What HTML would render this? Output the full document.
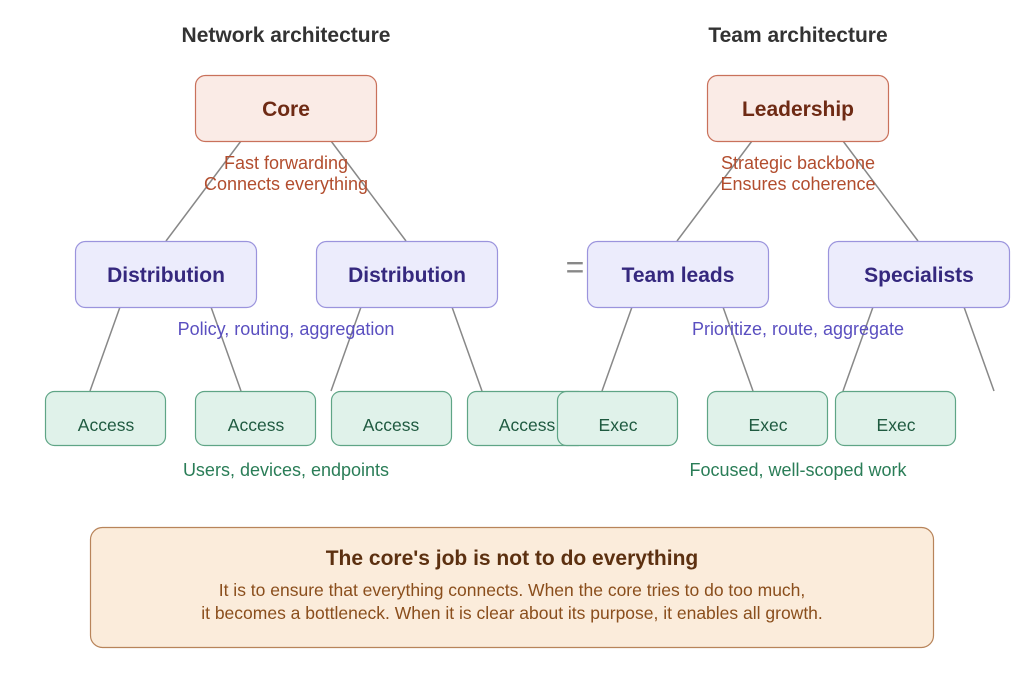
<!DOCTYPE html>
<html><head><meta charset="utf-8"><style>
html,body{margin:0;padding:0;background:#fff;}
svg{display:block;font-family:"Liberation Sans",sans-serif;}
</style></head><body>
<svg width="1024" height="678" viewBox="0 0 1024 678" xmlns="http://www.w3.org/2000/svg">
<rect width="1024" height="678" fill="#fff"/>
<g font-weight="bold" font-size="21" fill="#333" text-anchor="middle">
<text x="286" y="42">Network architecture</text>
<text x="798" y="42">Team architecture</text>
</g>
<g stroke="#888" stroke-width="1.5">
<line x1="241" y1="141" x2="166" y2="241"/><line x1="331" y1="141" x2="406" y2="241"/>
<line x1="120" y1="307" x2="90" y2="391"/><line x1="211" y1="307" x2="241" y2="391"/>
<line x1="361" y1="307" x2="331" y2="391"/><line x1="452" y1="307" x2="482" y2="391"/>
<line x1="752" y1="141" x2="677" y2="241"/><line x1="843" y1="141" x2="918" y2="241"/>
<line x1="632" y1="307" x2="602" y2="391"/><line x1="723" y1="307" x2="753" y2="391"/>
<line x1="873" y1="307" x2="843" y2="391"/><line x1="964" y1="307" x2="994" y2="391"/>
</g>
<g fill="#faebe6" stroke="#c9715b" stroke-width="1.2">
<rect x="195.5" y="75.5" width="181" height="66" rx="10"/>
<rect x="707.5" y="75.5" width="181" height="66" rx="10"/>
</g>
<g font-weight="bold" font-size="21" fill="#6e2a14" text-anchor="middle">
<text x="286" y="116">Core</text><text x="798" y="116">Leadership</text>
</g>
<g font-size="18" fill="#b24d2e" text-anchor="middle">
<text x="286" y="169">Fast forwarding</text><text x="286" y="190">Connects everything</text>
<text x="798" y="169">Strategic backbone</text><text x="798" y="190">Ensures coherence</text>
</g>
<g fill="#ececfc" stroke="#9b94dd" stroke-width="1.2">
<rect x="75.5" y="241.5" width="181" height="66" rx="10"/>
<rect x="316.5" y="241.5" width="181" height="66" rx="10"/>
<rect x="587.5" y="241.5" width="181" height="66" rx="10"/>
<rect x="828.5" y="241.5" width="181" height="66" rx="10"/>
</g>
<g font-weight="bold" font-size="21" fill="#35287e" text-anchor="middle">
<text x="166" y="282">Distribution</text><text x="407" y="282">Distribution</text>
<text x="678" y="282">Team leads</text><text x="919" y="282">Specialists</text>
</g>
<g font-size="18" fill="#5a4fc0" text-anchor="middle">
<text x="286" y="335">Policy, routing, aggregation</text>
<text x="798" y="335">Prioritize, route, aggregate</text>
</g>
<text x="575" y="278" font-size="32" fill="#888" text-anchor="middle">=</text>
<g fill="#e0f2ea" stroke="#5fa586" stroke-width="1.2">
<rect x="45.5" y="391.5" width="120" height="54" rx="9"/>
<rect x="195.5" y="391.5" width="120" height="54" rx="9"/>
<rect x="331.5" y="391.5" width="120" height="54" rx="9"/>
<rect x="467.5" y="391.5" width="120" height="54" rx="9"/>
<rect x="557.5" y="391.5" width="120" height="54" rx="9"/>
<rect x="707.5" y="391.5" width="120" height="54" rx="9"/>
<rect x="835.5" y="391.5" width="120" height="54" rx="9"/>
</g>
<g font-size="17.5" fill="#1f5a40" text-anchor="middle">
<text x="106" y="431">Access</text><text x="256" y="431">Access</text>
<text x="391" y="431">Access</text><text x="527" y="431">Access</text>
<text x="618" y="431">Exec</text><text x="768" y="431">Exec</text><text x="896" y="431">Exec</text>
</g>
<g font-size="18" fill="#2a7d57" text-anchor="middle">
<text x="286" y="476">Users, devices, endpoints</text>
<text x="798" y="476">Focused, well-scoped work</text>
</g>
<rect x="90.5" y="527.5" width="843" height="120" rx="12" fill="#fbecdb" stroke="#b8845a" stroke-width="1.2"/>
<text x="512" y="565" font-size="21" font-weight="bold" fill="#5c3010" text-anchor="middle">The core's job is not to do everything</text>
<g font-size="17.5" fill="#8a4e1c" text-anchor="middle">
<text x="512" y="596">It is to ensure that everything connects. When the core tries to do too much,</text>
<text x="512" y="619">it becomes a bottleneck. When it is clear about its purpose, it enables all growth.</text>
</g>
</svg>
</body></html>
